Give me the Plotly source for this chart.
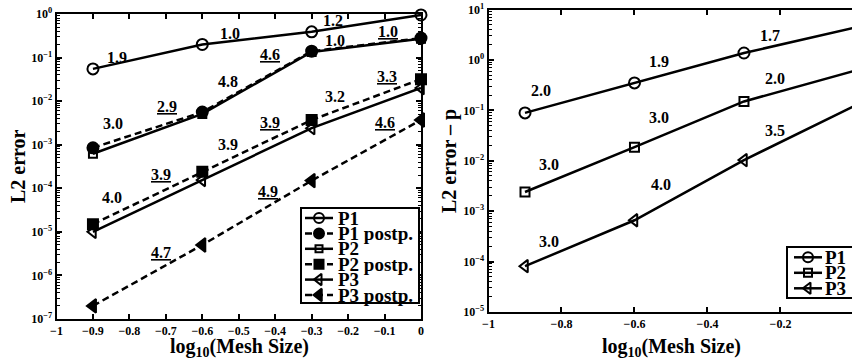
import plotly.graph_objects as go

# ---------------- data ----------------
mesh_log10 = [-0.9, -0.6, -0.3, 0.0]

# left panel (L2 error)
p1_err = [0.055, 0.20, 0.39, 0.95]
p1_postp_err = [8.5e-4, 5.6e-3, 0.14, 0.28]
p2_err = [6.2e-4, 5.1e-3, 0.135, 0.27]
p2_postp_err = [1.5e-5, 2.4e-4, 3.7e-3, 0.032]
p3_err = [1.0e-5, 1.55e-4, 2.4e-3, 0.020]
p3_postp_err = [2.0e-7, 5.0e-6, 1.5e-4, 3.7e-3]

# right panel (L2 error - p)
p1_err_p = [0.089, 0.35, 1.37, 4.3]
p2_err_p = [2.4e-3, 0.0186, 0.15, 0.60]
p3_err_p = [8.1e-5, 6.6e-4, 0.0103, 0.12]

# convergence-rate labels, left panel
left_rate_text = ["1.9", "1.0", "1.2", "1.0", "1.0", "4.6", "4.8", "2.9", "3.0",
                  "3.3", "3.2", "3.9", "3.9", "4.6", "3.9", "4.0", "4.9", "4.7"]
left_rate_x = [-0.835, -0.525, -0.242, -0.236, -0.09, -0.415, -0.53, -0.698, -0.846,
               -0.093, -0.236, -0.415, -0.53, -0.099, -0.712, -0.849, -0.42, -0.712]
left_rate_logy = [-0.99, -0.44, -0.14, -0.60, -0.41, -0.94, -1.56, -2.13, -2.52,
                  -1.44, -1.90, -2.50, -3.00, -2.48, -3.69, -4.22, -4.08, -5.48]
left_rate_postp = [False, False, False, False, True, True, False, True, False,
                   True, False, True, False, True, True, False, True, True]

# convergence-rate labels, right panel
right_rate_text = ["2.0", "1.9", "1.7", "3.0", "3.0", "2.0", "3.5", "4.0", "3.0"]
right_rate_x = [-0.855, -0.532, -0.23, -0.833, -0.532, -0.216, -0.216, -0.526, -0.833]
right_rate_logy = [-0.60, -0.04, 0.49, -2.08, -1.15, -0.36, -1.39, -2.48, -3.61]

left_names = ["P1", "P1 postp.", "P2", "P2 postp.", "P3", "P3 postp."]
right_names = ["P1", "P2", "P3"]

left_y_exponents = [0, -1, -2, -3, -4, -5, -6, -7]
right_y_exponents = [1, 0, -1, -2, -3, -4, -5]

# ---------------- styles ----------------
FONT = "Liberation Serif"


def fnt(size):
    return dict(family=FONT, size=size, color="black", weight="bold")


def exp_label(k):
    return "10<sup>" + ("\u2212" if k < 0 else "") + str(abs(k)) + "</sup>"


DASH = "7px,4px"
LW = 2.5
left_styles = [
    dict(symbol="circle-open", size=11, dash="solid"),
    dict(symbol="circle", size=11, dash=DASH),
    dict(symbol="square-open", size=8, dash="solid"),
    dict(symbol="square", size=10, dash=DASH),
    dict(symbol="triangle-left-open", size=11, dash="solid"),
    dict(symbol="triangle-left", size=12, dash=DASH),
]
right_styles = [
    dict(symbol="circle-open", size=11, dash="solid"),
    dict(symbol="square-open", size=9, dash="solid"),
    dict(symbol="triangle-left-open", size=11, dash="solid"),
]


def marker(st):
    return dict(symbol=st["symbol"], size=st["size"], color="black",
                line=dict(color="black", width=2))


fig = go.Figure()

left_series = [p1_err, p1_postp_err, p2_err, p2_postp_err, p3_err, p3_postp_err]
for name, vals, st in zip(left_names, left_series, left_styles):
    fig.add_trace(go.Scatter(x=mesh_log10, y=vals, name=name, mode="lines+markers",
                             line=dict(color="black", width=LW, dash=st["dash"]),
                             marker=marker(st), cliponaxis=False,
                             xaxis="x", yaxis="y", showlegend=False))

right_series = [p1_err_p, p2_err_p, p3_err_p]
for name, vals, st in zip(right_names, right_series, right_styles):
    fig.add_trace(go.Scatter(x=mesh_log10, y=vals, name=name, mode="lines+markers",
                             line=dict(color="black", width=LW, dash=st["dash"]),
                             marker=marker(st), cliponaxis=False,
                             xaxis="x2", yaxis="y2", showlegend=False))

annotations = []
for t, x, ly, up in zip(left_rate_text, left_rate_x, left_rate_logy, left_rate_postp):
    annotations.append(dict(text=("<u>" + t + "</u>") if up else t, x=x, y=ly,
                            xref="x", yref="y", xanchor="center", yanchor="middle",
                            showarrow=False, font=fnt(16)))
for t, x, ly in zip(right_rate_text, right_rate_x, right_rate_logy):
    annotations.append(dict(text=t, x=x, y=ly, xref="x2", yref="y2",
                            xanchor="center", yanchor="middle",
                            showarrow=False, font=fnt(16)))

# ---------------- hand-built legends (MATLAB-like tight rows) ----------------
W, H = 852, 363
leg_row0, leg_row_step = 9.0, 15.4
for i, (name, st) in enumerate(zip(left_names, left_styles)):
    ry = leg_row0 + leg_row_step * i
    fig.add_trace(go.Scatter(x=[3, 17, 31], y=[ry] * 3, mode="lines+markers",
                             line=dict(color="black", width=LW, dash=st["dash"]),
                             marker=dict(symbol=st["symbol"], size=st["size"] - 1,
                                         color="black", opacity=[0, 1, 0],
                                         line=dict(color="black", width=2)),
                             xaxis="x3", yaxis="y3", showlegend=False, hoverinfo="skip"))
    annotations.append(dict(text=name, x=34, y=ry, xref="x3", yref="y3",
                            xanchor="left", yanchor="middle", showarrow=False,
                            font=fnt(19)))
for i, (name, st) in enumerate(zip(right_names, right_styles)):
    ry = 9.3 + 15.5 * i
    fig.add_trace(go.Scatter(x=[6, 20, 34], y=[ry] * 3, mode="lines+markers",
                             line=dict(color="black", width=LW, dash=st["dash"]),
                             marker=dict(symbol=st["symbol"], size=st["size"] - 1,
                                         color="black", opacity=[0, 1, 0],
                                         line=dict(color="black", width=2)),
                             xaxis="x4", yaxis="y4", showlegend=False, hoverinfo="skip"))
    annotations.append(dict(text=name, x=35, y=ry, xref="x4", yref="y4",
                            xanchor="left", yanchor="middle", showarrow=False,
                            font=fnt(19)))

# axis titles
annotations += [
    dict(text="L2 error", x=17.5 / W, y=1 - 166.5 / H, xref="paper", yref="paper",
         xanchor="center", yanchor="middle",
         textangle=-90, showarrow=False, font=fnt(20)),
    dict(text="L2 error \u2013 p", x=450 / W, y=1 - 161 / H, xref="paper", yref="paper",
         xanchor="center", yanchor="middle",
         textangle=-90, showarrow=False, font=fnt(20)),
    dict(text="log<sub>10</sub>(Mesh Size)", x=239 / W, y=1 - 347 / H, xref="paper",
         yref="paper", xanchor="center", yanchor="middle",
         showarrow=False, font=fnt(20)),
    dict(text="log<sub>10</sub>(Mesh Size)", x=671 / W, y=1 - 347 / H, xref="paper",
         yref="paper", xanchor="center", yanchor="middle",
         showarrow=False, font=fnt(20)),
]

xcommon = dict(showline=True, linecolor="black", linewidth=2, ticks="inside",
               ticklen=5, tickwidth=1.5, tickcolor="black", showgrid=False,
               zeroline=False, tickfont=fnt(12), automargin=False)
ycommon = dict(type="log", showline=True, linecolor="black", linewidth=2,
               ticks="inside", ticklen=5, tickwidth=1.5, tickcolor="black",
               showgrid=False, zeroline=False, tickfont=fnt(12), tickmode="array",
               automargin=False,
               minor=dict(ticks="inside", ticklen=3, tickwidth=1, tickcolor="black",
                          dtick="D1", showgrid=False))
legaxis = dict(showline=True, linecolor="black", linewidth=1.5, showticklabels=False,
               ticks="", showgrid=False, zeroline=False, fixedrange=True,
               automargin=False)

fig.update_layout(
    template="none",
    width=W, height=H, autosize=False,
    margin=dict(l=0, r=0, t=0, b=0, pad=0),
    paper_bgcolor="white", plot_bgcolor="white",
    showlegend=False,
    xaxis=dict(**xcommon, domain=[56.5 / W, 421 / W], range=[-1, 0], dtick=0.1, tick0=0,
               mirror="ticks", anchor="y"),
    yaxis=dict(**ycommon, domain=[1 - 319 / H, 1 - 14 / H], range=[-7, 0],
               tickvals=[10.0 ** k for k in left_y_exponents],
               ticktext=[exp_label(k) for k in left_y_exponents],
               mirror="ticks", anchor="x"),
    xaxis2=dict(**xcommon, domain=[488.5 / W, 1.0], range=[-1, -0.004], dtick=0.2,
                tick0=0, mirror="ticks", anchor="y2"),
    yaxis2=dict(**ycommon, domain=[1 - 312 / H, 1 - 9.5 / H], range=[-5, 1],
                tickvals=[10.0 ** k for k in right_y_exponents],
                ticktext=[exp_label(k) for k in right_y_exponents],
                mirror=False, anchor="x2"),
    xaxis3=dict(**legaxis, domain=[302 / W, 418 / W], range=[0, 116], mirror=True,
                anchor="y3"),
    yaxis3=dict(**legaxis, domain=[1 - 302 / H, 1 - 209 / H], range=[93, 0], mirror=True,
                anchor="x3"),
    xaxis4=dict(**legaxis, domain=[788 / W, 1.0], range=[0, 64], mirror=True,
                anchor="y4"),
    yaxis4=dict(**legaxis, domain=[1 - 297 / H, 1 - 248 / H], range=[49, 0], mirror=False,
                anchor="x4"),
    annotations=annotations,
)

fig.write_html("out.html")
